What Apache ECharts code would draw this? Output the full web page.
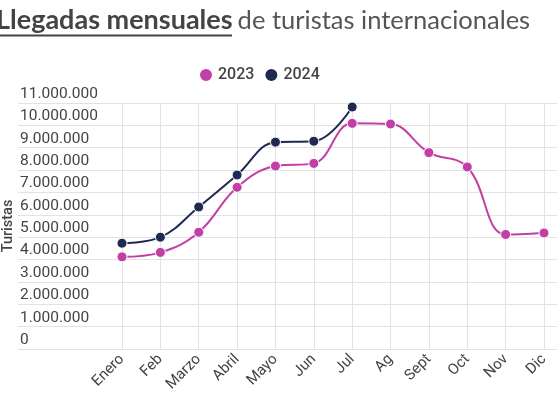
<!DOCTYPE html>
<html>
<head>
<meta charset="utf-8">
<script src="https://cdn.jsdelivr.net/npm/echarts@6/dist/echarts.min.js"></script>
<style>html,body{margin:0;padding:0;background:#fff}#c{width:560px;height:397px}</style>
</head>
<body>
<div id="c"></div>
<script>
const months = ['Enero','Feb','Marzo','Abril','Mayo','Jun','Jul','Ag','Sept','Oct','Nov','Dic'];
const values2023 = [4120000, 4320000, 5220000, 7230000, 8180000, 8300000, 10090000, 10060000, 8780000, 8140000, 5120000, 5190000];
const values2024 = [4730000, 5000000, 6350000, 7780000, 9250000, 9290000, 10820000];
const seriesNames = ['2023', '2024'];
const yMax = 11000000;
const yStep = 1000000;

const pink = '#c13fa6';
const navy = '#1e2a50';
const textColor = '#444';

function fmt(v){ return String(v).replace(/\B(?=(\d{3})+(?!\d))/g, '.'); }

const chart = echarts.init(document.getElementById('c'), null, {renderer:'canvas'});
chart.setOption({
  animation: false,
  backgroundColor: '#fff',
  title: {
    left: -4, top: 7, padding: 0,
    text: '{b|Llegadas mensuales} {n|de turistas internacionales}',
    textStyle: {
      rich: {
        b: {fontFamily: 'Lato', fontSize: 27, fontWeight: 'bold', color: '#444'},
        n: {fontFamily: 'Lato', fontSize: 25.5, fontWeight: 'normal', color: '#555'}
      }
    }
  },
  graphic: [{
    type: 'line', shape: {x1: 0, y1: 35.5, x2: 232, y2: 35.5},
    style: {stroke: '#444', lineWidth: 1.8}
  }],
  legend: {
    left: 193, top: 62,
    data: seriesNames,
    icon: 'circle', itemWidth: 14, itemHeight: 14, itemGap: 9,
    textStyle: {fontFamily: 'Roboto', fontSize: 16, fontWeight: 500, color: textColor}
  },
  grid: [
    {left: 18, right: 3, top: 103, bottom: 48, outerBoundsMode: 'none', containLabel: false},
    {left: 122, right: 16, top: 103, bottom: 48, outerBoundsMode: 'none', containLabel: false}
  ],
  xAxis: [
    {gridIndex: 0, type: 'category', data: months, show: false},
    {gridIndex: 1, type: 'category', data: months, boundaryGap: false,
     axisLine: {show: false}, axisTick: {show: false},
     splitLine: {show: true, lineStyle: {color: '#e2e2e2', width: 1}},
     axisLabel: {rotate: 45, margin: 8, fontFamily: 'Roboto', fontSize: 15, color: textColor, interval: 0}}
  ],
  yAxis: [
    {gridIndex: 0, type: 'value', min: 0, max: yMax, interval: yStep,
     name: 'Turistas', nameLocation: 'middle', nameRotate: 90, nameGap: 2, nameMoveOverlap: false,
     nameTextStyle: {fontFamily: 'Roboto', fontSize: 14.5, fontWeight: 500, color: textColor},
     axisLine: {show: false}, axisTick: {show: false},
     splitLine: {show: true, lineStyle: {color: '#e2e2e2', width: 1}},
     axisLabel: {inside: true, margin: 2, verticalAlign: 'bottom', padding: [0,0,1,0],
       fontFamily: 'Roboto', fontSize: 15.5, color: textColor, formatter: fmt}},
    {gridIndex: 1, type: 'value', min: 0, max: yMax, interval: yStep, show: false}
  ],
  series: [
    {name: seriesNames[0], type: 'line', xAxisIndex: 1, yAxisIndex: 1, data: values2023,
     smooth: 0.4, symbol: 'circle', symbolSize: 10, color: pink,
     lineStyle: {width: 2, color: pink},
     itemStyle: {color: pink, borderColor: '#fff', borderWidth: 1}},
    {name: seriesNames[1], type: 'line', xAxisIndex: 1, yAxisIndex: 1, data: values2024,
     smooth: 0.4, symbol: 'circle', symbolSize: 10, color: navy,
     lineStyle: {width: 2, color: navy},
     itemStyle: {color: navy, borderColor: '#fff', borderWidth: 1}}
  ]
});
</script>
</body>
</html>
